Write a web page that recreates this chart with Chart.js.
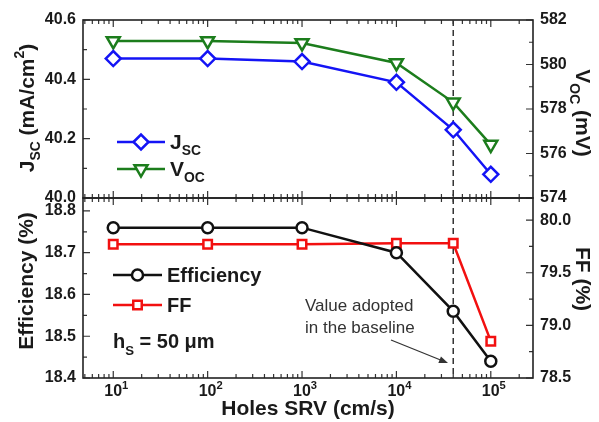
<!DOCTYPE html>
<html>
<head>
<meta charset="utf-8">
<script src="https://cdn.jsdelivr.net/npm/chart.js@4.4.0/dist/chart.umd.min.js"></script>
<style>
  html, body { margin: 0; padding: 0; background: #fff; }
  #wrap { position: relative; width: 599px; height: 422px; overflow: hidden; }
  #topChart { position: absolute; left: 0; top: 0; }
  #botChart { position: absolute; left: 0; top: 178px; }
</style>
</head>
<body>
<div id="wrap">
  <canvas id="topChart" width="599" height="220"></canvas>
  <canvas id="botChart" width="599" height="244"></canvas>
</div>
<script>
// Data
const srv = [10, 100, 1000, 10000, 40000, 100000];
const jsc = [40.47, 40.47, 40.46, 40.39, 40.23, 40.08];
const voc = [581.06, 581.06, 580.97, 580.07, 578.3, 576.4];
const efficiency = [18.76, 18.76, 18.76, 18.70, 18.56, 18.44];
const ff = [79.77, 79.77, 79.77, 79.78, 79.78, 78.85];
const adoptedSRV = 40000;

const xTicks = [10, 100, 1000, 10000, 100000];
const jscTicks = [40.0, 40.2, 40.4, 40.6];
const vocTicks = [574, 576, 578, 580, 582];
const effTicks = [18.4, 18.5, 18.6, 18.7, 18.8];
const ffTicks = [78.5, 79.0, 79.5, 80.0];

const FONT = '"Liberation Sans", Arial, sans-serif';
const xMin = 4.78, xMax = 2.8e5;
const BOT_TOP = 178;

const pts = (ys) => srv.map((x, i) => ({ x: x, y: ys[i] }));

function fixTicks(list) {
  return function (scale) { scale.ticks = list.map(v => ({ value: v })); };
}

// draws text made of normal / sub / sup pieces
function richText(ctx, parts, x, y, opts) {
  const size = opts.size, weight = opts.weight || 'bold';
  const small = size * (opts.small || 0.66);
  ctx.save();
  ctx.translate(x, y);
  ctx.rotate(opts.rot || 0);
  ctx.fillStyle = opts.color || '#1a1a1a';
  ctx.textBaseline = 'alphabetic';
  ctx.textAlign = 'left';
  let w = 0;
  parts.forEach(p => {
    ctx.font = weight + ' ' + (p.s ? small : size) + 'px ' + FONT;
    w += ctx.measureText(p.t).width;
  });
  let cx = opts.align === 'left' ? 0 : -w / 2;
  const base = size * 0.36;
  parts.forEach(p => {
    ctx.font = weight + ' ' + (p.s ? small : size) + 'px ' + FONT;
    let dy = base;
    if (p.s === 'sub') dy += size * 0.32;
    if (p.s === 'sup') dy -= size * 0.45;
    ctx.fillText(p.t, cx, dy);
    cx += ctx.measureText(p.t).width;
  });
  ctx.restore();
}

function legendItem(ctx, ds, x1, x2, y) {
  ctx.save();
  ctx.strokeStyle = ds.borderColor;
  ctx.lineWidth = ds.borderWidth;
  ctx.beginPath();
  ctx.moveTo(x1, y); ctx.lineTo(x2, y);
  ctx.stroke();
  ctx.fillStyle = '#fff';
  ctx.lineWidth = ds.pointBorderWidth;
  Chart.helpers.drawPoint(ctx, {
    pointStyle: ds.pointStyle, rotation: ds.pointRotation || 0,
    radius: ds.pointRadius, borderWidth: ds.pointBorderWidth
  }, (x1 + x2) / 2, y);
  ctx.restore();
}

// frame, inward ticks, dashed marker line and the extra texts
const decor = {
  id: 'decor',
  beforeDatasetsDraw(chart) {
    const ctx = chart.ctx, a = chart.chartArea;
    const xs = chart.scales.x, yl = chart.scales.y, yr = chart.scales.y2;
    ctx.save();
    ctx.strokeStyle = '#333';
    ctx.lineWidth = 1.2;
    ctx.beginPath();
    const tick = (x1, y1, x2, y2) => { ctx.moveTo(x1, y1); ctx.lineTo(x2, y2); };
    for (let d = 0; d <= 5; d++) {
      for (let m = 1; m <= 9; m++) {
        const v = m * Math.pow(10, d);
        if (v < xMin || v > xMax) continue;
        const px = xs.getPixelForValue(v);
        const len = m === 1 ? 7 : 4;
        tick(px, a.bottom, px, a.bottom - len);
        tick(px, a.top, px, a.top + len);
      }
    }
    const yTicks = (scale, step, left) => {
      for (let v = scale.min; v <= scale.max + 1e-9; v += step / 2) {
        const py = scale.getPixelForValue(v);
        const major = Math.abs(Math.round((v - scale.min) / step) * step - (v - scale.min)) < 1e-6;
        const len = major ? 7 : 4;
        if (left) tick(a.left, py, a.left + len, py);
        else tick(a.right, py, a.right - len, py);
      }
    };
    yTicks(yl, chart.options.plugins.decor.lStep, true);
    yTicks(yr, chart.options.plugins.decor.rStep, false);
    ctx.stroke();
    ctx.lineWidth = 1.6;
    ctx.strokeStyle = '#222';
    ctx.strokeRect(a.left, a.top, a.right - a.left, a.bottom - a.top);
    // adopted value
    const dx = xs.getPixelForValue(adoptedSRV);
    ctx.setLineDash([6, 4]);
    ctx.lineWidth = 1.5;
    ctx.strokeStyle = '#333';
    ctx.beginPath();
    ctx.moveTo(dx, a.top); ctx.lineTo(dx, a.bottom);
    ctx.stroke();
    ctx.restore();
  },
  afterDraw(chart, args, o) {
    const ctx = chart.ctx;
    ctx.save();
    ctx.translate(0, -(o.offsetY || 0));
    o.draw(ctx, chart);
    ctx.restore();
  }
};

function baseOptions(top) {
  return {
    responsive: false,
    animation: false,
    layout: { padding: top ? { top: 20, bottom: 22, left: 0, right: 0 } : { top: 20, bottom: 0, left: 0, right: 0 } },
    plugins: { legend: { display: false }, tooltip: { enabled: false } },
    scales: {
      x: {
        type: 'logarithmic', min: xMin, max: xMax,
        display: !top,
        afterBuildTicks: fixTicks(xTicks),
        afterFit(s) { s.height = top ? 0 : 44; },
        grid: { display: false, drawTicks: false },
        border: { display: false },
        ticks: {
          display: false, padding: 5,
          font: { family: FONT, size: 16, weight: 'bold' },
          maxRotation: 0, autoSkip: false
        },
        title: {
          display: true, text: 'Holes SRV (cm/s)', color: '#1a1a1a',
          font: { family: FONT, size: 21, weight: 'bold' },
          padding: { top: 0, bottom: 0 }
        }
      }
    }
  };
}

function yAxis(pos, min, max, list, digits) {
  return {
    position: pos, min: min, max: max,
    afterBuildTicks: fixTicks(list),
    afterFit(s) { s.width = pos === 'left' ? 83 : 66; },
    grid: { display: false, drawTicks: false },
    border: { display: false },
    ticks: {
      color: '#1a1a1a', padding: 7,
      font: { family: FONT, size: 16, weight: 'bold' },
      callback: v => v.toFixed(digits)
    }
  };
}

function lineSet(data, color, style, radius, axis, rot) {
  return {
    data: data, yAxisID: axis,
    borderColor: color, borderWidth: 2.5,
    pointStyle: style, pointRadius: radius, pointRotation: rot || 0,
    pointBorderColor: color, pointBackgroundColor: '#fff', pointBorderWidth: 2.5,
    tension: 0
  };
}

// upper panel: Jsc and Voc
const topOpts = baseOptions(true);
topOpts.scales.y = yAxis('left', 40.0, 40.6, jscTicks, 1);
topOpts.scales.y2 = yAxis('right', 574, 582, vocTicks, 0);
topOpts.plugins.decor = {
  lStep: 0.2, rStep: 2, offsetY: 0,
  draw(ctx, chart) {
    const ds = chart.data.datasets;
    legendItem(ctx, ds[0], 117, 165, 142);
    legendItem(ctx, ds[1], 117, 165, 169);
    richText(ctx, [{ t: 'J' }, { t: 'SC', s: 'sub' }], 170, 141, { size: 21, align: 'left' });
    richText(ctx, [{ t: 'V' }, { t: 'OC', s: 'sub' }], 170, 168, { size: 21, align: 'left' });
    richText(ctx, [{ t: 'J' }, { t: 'SC', s: 'sub' }, { t: ' (mA/cm' }, { t: '2', s: 'sup' }, { t: ')' }],
      26, 108, { size: 21, rot: -Math.PI / 2 });
    richText(ctx, [{ t: 'V' }, { t: 'OC', s: 'sub' }, { t: ' (mV)' }],
      584, 113, { size: 21, rot: Math.PI / 2 });
  }
};
new Chart(document.getElementById('topChart'), {
  type: 'line',
  data: {
    datasets: [
      lineSet(pts(jsc), '#1414f5', 'rectRot', 7.5, 'y'),
      lineSet(pts(voc), '#1c7d1c', 'triangle', 7.5, 'y2', 180)
    ]
  },
  options: topOpts,
  plugins: [decor]
});

// lower panel: efficiency and FF
const botOpts = baseOptions(false);
botOpts.scales.y = yAxis('left', 18.4, 18.831, effTicks, 1);
botOpts.scales.y2 = yAxis('right', 78.5, 80.21, ffTicks, 1);
botOpts.plugins.decor = {
  lStep: 0.1, rStep: 0.5, offsetY: BOT_TOP,
  draw(ctx, chart) {
    const ds = chart.data.datasets;
    const xs = chart.scales.x;
    xTicks.forEach(v => {
      richText(ctx, [{ t: '10' }, { t: String(Math.round(Math.log10(v))), s: 'sup' }],
        xs.getPixelForValue(v) + 3, 390, { size: 16, small: 0.7 });
    });
    legendItem(ctx, ds[0], 113, 162, 275);
    legendItem(ctx, ds[1], 113, 162, 305);
    richText(ctx, [{ t: 'Efficiency' }], 167, 275, { size: 20, align: 'left' });
    richText(ctx, [{ t: 'FF' }], 167, 305, { size: 20, align: 'left' });
    richText(ctx, [{ t: 'h' }, { t: 'S', s: 'sub' }, { t: ' = 50 \u03bcm' }], 113, 341, { size: 20, align: 'left' });
    richText(ctx, [{ t: 'Efficiency (%)' }], 25, 281, { size: 21, rot: -Math.PI / 2 });
    richText(ctx, [{ t: 'FF (%)' }], 584, 279, { size: 21, rot: Math.PI / 2 });
    // annotation
    richText(ctx, [{ t: 'Value adopted' }], 305, 305, { size: 17, weight: 'normal', align: 'left', color: '#333' });
    richText(ctx, [{ t: 'in the baseline' }], 305, 327, { size: 17, weight: 'normal', align: 'left', color: '#333' });
    const x1 = 391, y1 = 340, x2 = 448, y2 = 363;
    const ang = Math.atan2(y2 - y1, x2 - x1);
    ctx.strokeStyle = '#333';
    ctx.fillStyle = '#333';
    ctx.lineWidth = 1.3;
    ctx.beginPath();
    ctx.moveTo(x1, y1); ctx.lineTo(x2 - 6 * Math.cos(ang), y2 - 6 * Math.sin(ang));
    ctx.stroke();
    ctx.beginPath();
    ctx.moveTo(x2, y2);
    ctx.lineTo(x2 - 9 * Math.cos(ang) + 3.5 * Math.sin(ang), y2 - 9 * Math.sin(ang) - 3.5 * Math.cos(ang));
    ctx.lineTo(x2 - 9 * Math.cos(ang) - 3.5 * Math.sin(ang), y2 - 9 * Math.sin(ang) + 3.5 * Math.cos(ang));
    ctx.closePath();
    ctx.fill();
  }
};
new Chart(document.getElementById('botChart'), {
  type: 'line',
  data: {
    datasets: [
      lineSet(pts(efficiency), '#111', 'circle', 5.5, 'y'),
      lineSet(pts(ff), '#f21010', 'rect', 6, 'y2')
    ]
  },
  options: botOpts,
  plugins: [decor]
});
</script>
</body>
</html>
